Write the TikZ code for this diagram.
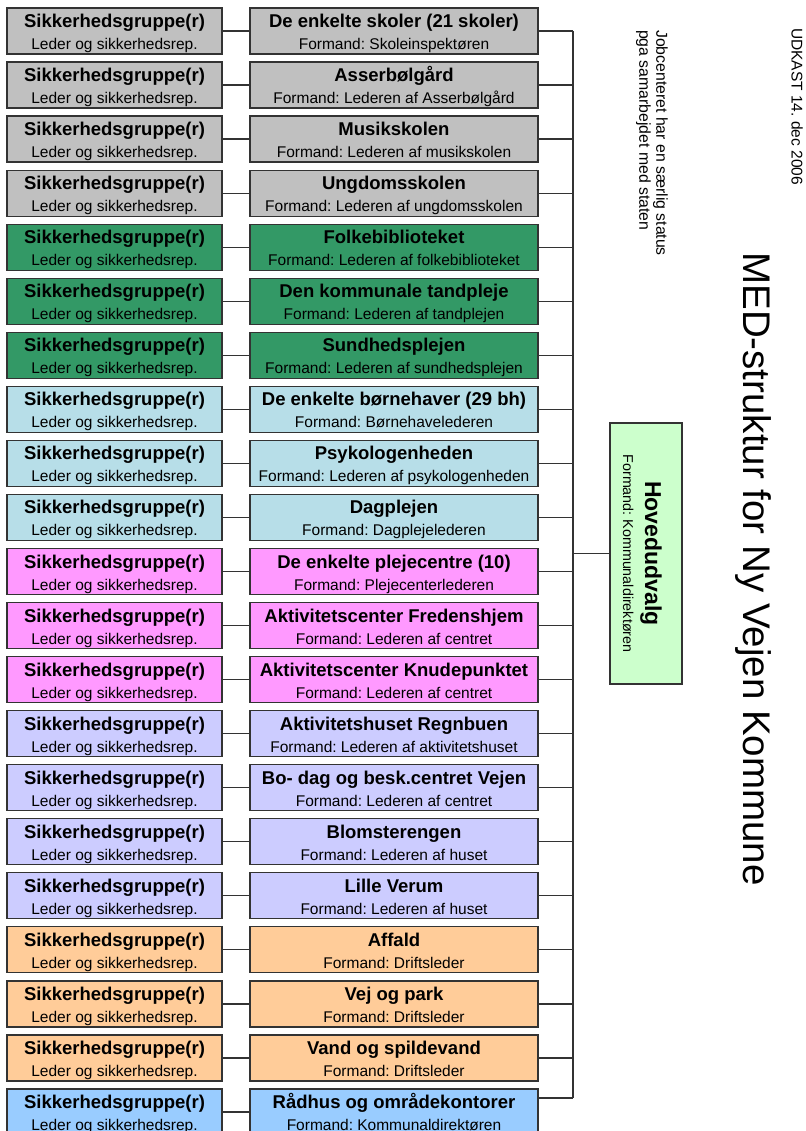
\documentclass[tikz,border=0pt]{standalone}
\usepackage{fontspec}
\setmainfont{Liberation Sans}
\frenchspacing
\definecolor{cgray}{HTML}{C0C0C0}
\definecolor{cgreen}{HTML}{339966}
\definecolor{cteal}{HTML}{B7DEE8}
\definecolor{cpink}{HTML}{FF99FF}
\definecolor{clav}{HTML}{CCCCFF}
\definecolor{corange}{HTML}{FFCC99}
\definecolor{cblue}{HTML}{99CCFF}
\definecolor{chov}{HTML}{CCFFCC}
\definecolor{cline}{HTML}{333333}
\newcommand\ttl[1]{\rule{0pt}{18.5pt}{\fontsize{18.5}{22}\selectfont\bfseries #1}}
\newcommand\sbt[1]{#1\rule[-3.5pt]{0pt}{3.5pt}}
\tikzset{
  orgbox/.style={draw=cline, line width=1.2pt, minimum height=46pt, inner sep=0pt,
    align=center, font=\fontsize{15.5}{22}\selectfont\frenchspacing},
  leftbox/.style={orgbox, minimum width=215pt},
  rightbox/.style={orgbox, minimum width=288pt},
  conn/.style={draw=cline, line width=1.2pt},
  vtext/.style={rotate=-90, inner sep=0pt}
}
\newcommand\orgrow[4]{%
  \node[leftbox, fill=#2] (L#1) at (114.5,{31+54.05*#1}) {\ttl{Sikkerhedsgruppe(r)}\\\sbt{Leder og sikkerhedsrep.}};
  \node[rightbox, fill=#2] (R#1) at (394,{31+54.05*#1}) {\ttl{#3}\\\sbt{#4}};
  \draw[conn] (L#1.east) -- (R#1.west);
}
\begin{document}
\begin{tikzpicture}[x=1pt,y=-1pt]
\useasboundingbox (0,0) rectangle (805,1131);
\coordinate (bus) at (573,0);
\orgrow{0}{cgray}{De enkelte skoler (21 skoler)}{Formand: Skoleinspektøren}
\orgrow{1}{cgray}{Asserbølgård}{Formand: Lederen af Asserbølgård}
\orgrow{2}{cgray}{Musikskolen}{Formand: Lederen af musikskolen}
\orgrow{3}{cgray}{Ungdomsskolen}{Formand: Lederen af ungdomsskolen}
\orgrow{4}{cgreen}{Folkebiblioteket}{Formand: Lederen af folkebiblioteket}
\orgrow{5}{cgreen}{Den kommunale tandpleje}{Formand: Lederen af tandplejen}
\orgrow{6}{cgreen}{Sundhedsplejen}{Formand: Lederen af sundhedsplejen}
\orgrow{7}{cteal}{De enkelte børnehaver (29 bh)}{Formand: Børnehavelederen}
\orgrow{8}{cteal}{Psykologenheden}{Formand: Lederen af psykologenheden}
\orgrow{9}{cteal}{Dagplejen}{Formand: Dagplejelederen}
\orgrow{10}{cpink}{De enkelte plejecentre (10)}{Formand: Plejecenterlederen}
\orgrow{11}{cpink}{Aktivitetscenter Fredenshjem}{Formand: Lederen af centret}
\orgrow{12}{cpink}{Aktivitetscenter Knudepunktet}{Formand: Lederen af centret}
\orgrow{13}{clav}{Aktivitetshuset Regnbuen}{Formand: Lederen af aktivitetshuset}
\orgrow{14}{clav}{Bo- dag og besk.centret Vejen}{Formand: Lederen af centret}
\orgrow{15}{clav}{Blomsterengen}{Formand: Lederen af huset}
\orgrow{16}{clav}{Lille Verum}{Formand: Lederen af huset}
\orgrow{17}{corange}{Affald}{Formand: Driftsleder}
\orgrow{18}{corange}{Vej og park}{Formand: Driftsleder}
\orgrow{19}{corange}{Vand og spildevand}{Formand: Driftsleder}
\orgrow{20}{cblue}{Rådhus og områdekontorer}{Formand: Kommunaldirektøren}
% connectors to bus
\foreach \i in {0,...,19} {\draw[conn] (R\i.east) -- (R\i.east -| bus);}
\coordinate (rb) at ([yshift=14pt]R20.east);
\draw[conn] (rb) -- (rb -| bus);
\draw[conn] (R0.east -| bus) -- (rb -| bus);
% main committee
\node[vtext, draw=cline, line width=1.2pt, fill=chov, minimum width=261pt, minimum height=72pt,
  align=center, font=\fontsize{14.3}{22}\selectfont] (H) at (646,553.5)
  {\rule{0pt}{24pt}{\fontsize{23}{22}\selectfont\bfseries Hovedudvalg}\\Formand: Kommunaldirektøren};
\draw[conn] (H.south) -- (H.south -| bus);
% titles
\node[vtext, anchor=base, font=\fontsize{38.5}{40}\selectfont] (T) at (743,569) {MED-struktur for Ny Vejen Kommune};
\node[vtext, anchor=north west, font=\fontsize{15.5}{18}\selectfont] (U) at (803,28) {UDKAST 14. dec 2006};
\node[vtext, anchor=north west, align=left, font=\fontsize{15.8}{17}\selectfont] (J) at (668,30)
  {Jobcenteret har en særlig status\\pga samarbejdet med staten};
\end{tikzpicture}
\end{document}
